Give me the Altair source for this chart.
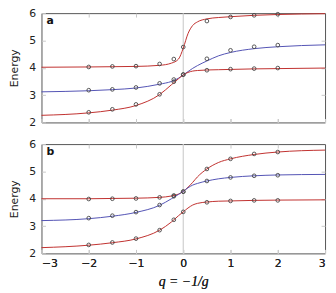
import altair as alt
import pandas as pd

# ---- data ----
Q_CURVE = [-3, -2, -1.5, -1, -0.5, -0.25, -0.1, 0, 0.1, 0.2, 0.3, 0.5, 0.75, 1, 1.5, 2, 3]
A_UPPER_CURVE = [4.02, 4.03, 4.04, 4.05, 4.09, 4.17, 4.32, 4.72, 5.25, 5.55, 5.68, 5.79, 5.84, 5.87, 5.92, 5.95, 5.98]
A_MID_CURVE = [3.12, 3.16, 3.20, 3.26, 3.40, 3.50, 3.62, 3.74, 3.86, 3.98, 4.08, 4.25, 4.44, 4.56, 4.70, 4.77, 4.84]
A_LOWER_CURVE = [2.26, 2.35, 2.45, 2.62, 3.02, 3.38, 3.60, 3.74, 3.83, 3.88, 3.90, 3.92, 3.93, 3.94, 3.96, 3.97, 3.99]
B_UPPER_CURVE = [4.00, 4.00, 4.01, 4.02, 4.05, 4.10, 4.17, 4.27, 4.42, 4.60, 4.80, 5.09, 5.33, 5.46, 5.62, 5.71, 5.78]
B_MID_CURVE = [3.20, 3.27, 3.36, 3.50, 3.76, 4.00, 4.16, 4.27, 4.40, 4.50, 4.56, 4.65, 4.73, 4.78, 4.84, 4.87, 4.89]
B_LOWER_CURVE = [2.21, 2.30, 2.39, 2.53, 2.85, 3.15, 3.38, 3.52, 3.66, 3.77, 3.83, 3.88, 3.91, 3.92, 3.94, 3.95, 3.96]

Q_PTS = [-2, -1.5, -1, -0.5, -0.2, 0, 0.5, 1, 1.5, 2]
A_UPPER_PTS = [4.03, 4.05, 4.06, 4.14, 4.32, 4.76, 5.71, 5.86, 5.92, 5.96]
A_MID_PTS = [3.18, 3.21, 3.28, 3.43, 3.57, 3.75, 4.33, 4.64, 4.77, 4.83]
A_LOWER_PTS = [2.37, 2.48, 2.66, 3.03, 3.49, 3.75, 3.91, 3.95, 3.97, 3.99]
B_UPPER_PTS = [3.99, 4.00, 4.01, 4.05, 4.12, 4.26, 5.09, 5.46, 5.64, 5.71]
B_MID_PTS = [3.29, 3.38, 3.51, 3.77, 4.09, 4.26, 4.65, 4.78, 4.84, 4.86]
B_LOWER_PTS = [2.31, 2.40, 2.54, 2.85, 3.23, 3.52, 3.87, 3.92, 3.94, 3.94]

SERIES = ["upper", "mid", "lower"]
COLORS = ["#c0302e", "#5252b4", "#c0302e"]
X_TICKS = [-3, -2, -1, 0, 1, 2, 3]
Y_TICKS = [2, 3, 4, 5, 6]

FONT = "DejaVu Sans"
W, H = 288, 111


def long_df(q, cols):
    rows = []
    for name, vals in zip(SERIES, cols):
        for qq, v in zip(q, vals):
            rows.append({"q": qq, "E": v, "s": name})
    return pd.DataFrame(rows)


def panel(label, curves, pts, show_x):
    xs = alt.Scale(domain=[-3, 3], nice=False, zero=False)
    ys = alt.Scale(domain=[2, 6], nice=False, zero=False)
    col = alt.Color("s:N", scale=alt.Scale(domain=SERIES, range=COLORS), legend=None)

    xaxis = alt.Axis(values=X_TICKS, orient="bottom", offset=-4, tickSize=4,
                     tickColor="#c8c8c8", domain=False, grid=False, minExtent=0,
                     labels=show_x, labelPadding=4, labelFontSize=11, labelFont=FONT,
                     labelColor="#222", format="d",
                     title="q = −1/g" if show_x else None,
                     titleFont="Liberation Serif", titleFontStyle="italic",
                     titleFontWeight="normal", titleFontSize=14, titleColor="#222",
                     titlePadding=7)
    yaxis = alt.Axis(values=Y_TICKS, orient="left", offset=-4, tickSize=4,
                     tickColor="#c8c8c8", domain=False, grid=False,
                     labelPadding=6, labelFontSize=11, labelFont=FONT, labelColor="#222",
                     title="Energy", titleFont=FONT, titleFontWeight="normal",
                     titleFontSize=11, titleColor="#222", titlePadding=9)

    zero = alt.Chart(pd.DataFrame({"q": [0]})).mark_rule(color="#cfcfcf", strokeWidth=1.2).encode(
        x=alt.X("q:Q", scale=xs, axis=xaxis))

    lines = alt.Chart(long_df(Q_CURVE, curves)).mark_line(
        strokeWidth=1, interpolate="monotone").encode(
        x=alt.X("q:Q", scale=xs, axis=xaxis),
        y=alt.Y("E:Q", scale=ys, axis=yaxis),
        color=col, detail="s:N")

    points = alt.Chart(long_df(Q_PTS, pts)).mark_point(
        shape="circle", filled=False, size=14, color="#444", strokeWidth=0.9, opacity=1).encode(
        x=alt.X("q:Q", scale=xs, axis=alt.Axis(orient="top", values=[-2, -1, 1, 2], offset=-4,
                                                tickSize=4, tickColor="#c8c8c8", domain=False,
                                                minExtent=0, labels=False, grid=False, title=None)),
        y=alt.Y("E:Q", scale=ys, axis=alt.Axis(orient="right", values=[3, 4, 5], offset=-4,
                                                tickSize=4, tickColor="#c8c8c8", domain=False,
                                                minExtent=0, labels=False, grid=False, title=None)))

    lab = alt.Chart(pd.DataFrame({"t": [label]})).mark_text(
        align="left", baseline="middle", font=FONT, fontWeight="bold", fontSize=11,
        color="#111").encode(x=alt.value(5), y=alt.value(8), text="t:N")

    return alt.layer(zero, lines, points, lab).resolve_axis(
        x="independent", y="independent").properties(width=W, height=H)


chart = alt.vconcat(
    panel("a", [A_UPPER_CURVE, A_MID_CURVE, A_LOWER_CURVE],
          [A_UPPER_PTS, A_MID_PTS, A_LOWER_PTS], False),
    panel("b", [B_UPPER_CURVE, B_MID_CURVE, B_LOWER_CURVE],
          [B_UPPER_PTS, B_MID_PTS, B_LOWER_PTS], True),
    spacing=9,
).properties(
    padding={"top": -4, "left": 0, "right": 0, "bottom": 0}
).configure_view(stroke="#555", strokeWidth=1)

chart.save("out.html", embed_options={"renderer": "svg", "actions": False})
